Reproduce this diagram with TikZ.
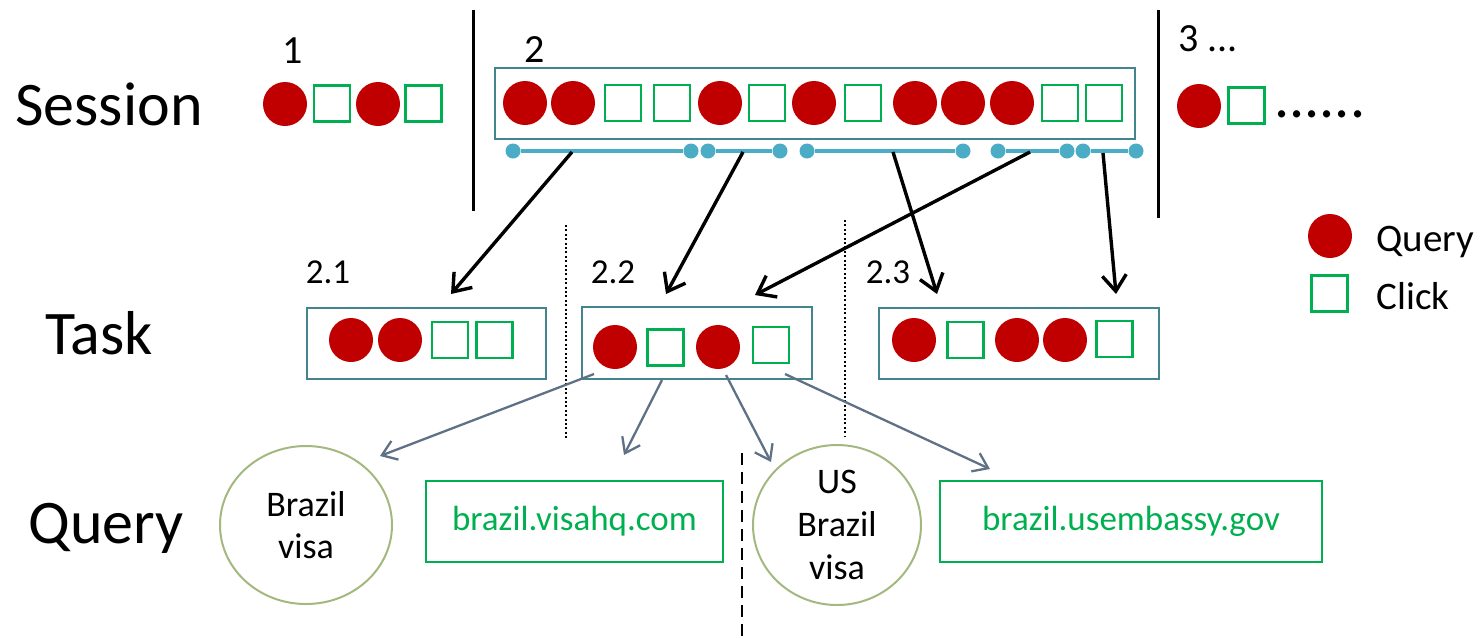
\documentclass[tikz,border=0pt]{standalone}
\usepackage{fontspec}
\setmainfont{Carlito}
\usetikzlibrary{arrows.meta,shapes.geometric}
\definecolor{qred}{HTML}{C00000}
\definecolor{cgreen}{HTML}{00B050}
\definecolor{boxteal}{HTML}{43848F}
\definecolor{segcyan}{HTML}{4BACC6}
\definecolor{linkgray}{HTML}{5F7285}
\definecolor{olivering}{HTML}{A3B87F}
\tikzset{
  qitem/.style={circle, fill=qred, minimum size=22pt, inner sep=0pt},
  citem/.style={rectangle, draw=cgreen, line width=1.2pt, minimum size=18pt, inner sep=0pt},
  groupbox/.style={rectangle, draw=boxteal, line width=1.3pt, inner sep=0pt},
  segdot/.style={circle, fill=segcyan, minimum size=7.5pt, inner sep=0pt},
  segline/.style={draw=segcyan, line width=1.6pt},
  splitarrow/.style={-{Straight Barb[length=8pt,width=12pt]}, line width=1.7pt, black},
  linkarrow/.style={-{Straight Barb[length=7pt,width=10pt]}, line width=1.15pt, draw=linkgray},
  rowlabel/.style={font=\fontsize{31}{36}\selectfont, anchor=base west, inner sep=0pt},
  numlabel/.style={font=\fontsize{20}{24}\selectfont, anchor=base, inner sep=0pt},
  tasklabel/.style={font=\fontsize{17.5}{21}\selectfont, anchor=base, inner sep=0pt},
  legendtext/.style={font=\fontsize{19.5}{23}\selectfont, anchor=base west, inner sep=0pt},
  querybubble/.style={ellipse, draw=olivering, line width=1pt, inner sep=0pt,
    align=center, font=\fontsize{18}{21}\selectfont},
  urlbox/.style={rectangle, draw=cgreen, line width=1.2pt, inner sep=0pt,
    minimum height=40.5pt, text=cgreen, font=\fontsize{17.5}{21}\selectfont},
  sessionsep/.style={line width=1.5pt, black},
  tasksep/.style={line width=1pt, dash pattern=on 1pt off 1.2pt},
  querysep/.style={line width=1pt, dash pattern=on 6pt off 3.5pt}
}
\begin{document}
\begin{tikzpicture}[x=0.5pt,y=-0.5pt]
\useasboundingbox (0,0) rectangle (1481,638);

% row titles
\node[rowlabel] (tSession) at (15,125) {Session};
\node[rowlabel] (tTask) at (45,354) {Task};
\node[rowlabel] (tQuery) at (28,543) {Query};

% session 1
\node[numlabel] (n1) at (293,63) {1};
\node[qitem] (s1q1) at (285,104) {};
\node[citem] (s1c1) at (332,103.5) {};
\node[qitem] (s1q2) at (378,104) {};
\node[citem] (s1c2) at (423.5,103.5) {};

% session separators
\coordinate (sepAtop) at (473,10);
\coordinate (sepAbot) at (473,211);
\coordinate (sepBtop) at (1158,10);
\coordinate (sepBbot) at (1158,218);
\draw[sessionsep] (sepAtop) -- (sepAbot);
\draw[sessionsep] (sepBtop) -- (sepBbot);

% session 2
\node[numlabel] (n2) at (535,62) {2};
\node[groupbox, minimum width=320pt, minimum height=35.5pt] (s2box) at (815,103.5) {};
\foreach \x [count=\i] in {525,573,720,814,915,963,1012}
  \node[qitem] (s2q\i) at (\x,103) {};
\foreach \x [count=\i] in {623,672,767,863,1060,1104}
  \node[citem] (s2c\i) at (\x,103) {};

% task segments under session 2
\foreach \x [count=\i] in {513,691,708,780,807,963,998,1067,1083,1136}
  \node[segdot] (d\i) at (\x,151) {};
\draw[segline] (d1) -- (d2);
\draw[segline] (d3) -- (d4);
\draw[segline] (d5) -- (d6);
\draw[segline] (d7) -- (d8);
\draw[segline] (d9) -- (d10);

% session 3
\node[anchor=base west, inner sep=0pt, font=\fontsize{20}{24}\selectfont] (n3) at (1178,51) {3 ...};
\node[qitem] (s3q1) at (1199,106) {};
\node[citem] (s3c1) at (1246.5,105.5) {};
\node[anchor=base west, inner sep=0pt, font=\fontsize{30}{34}\selectfont] (more) at (1274,117) {......};

% legend
\node[qitem] (lq) at (1330,236) {};
\node[legendtext] (lqt) at (1376,251) {Query};
\node[citem] (lc) at (1329.5,293.5) {};
\node[legendtext] (lct) at (1376,309) {Click};

% tasks
\node[tasklabel] (n21) at (328,283) {2.1};
\node[tasklabel] (n22) at (613,283) {2.2};
\node[tasklabel] (n23) at (888,283) {2.3};

\node[groupbox, minimum width=119.5pt, minimum height=35.5pt] (t1box) at (426.5,343.5) {};
\node[qitem] (t1q1) at (351,340) {};
\node[qitem] (t1q2) at (400,340) {};
\node[citem] (t1c1) at (450,340) {};
\node[citem] (t1c2) at (494.5,340) {};

\node[groupbox, minimum width=115pt, minimum height=36pt] (t2box) at (697,343) {};
\node[qitem] (t2q1) at (615,347) {};
\node[citem] (t2c1) at (665.5,347.5) {};
\node[qitem] (t2q2) at (718,347) {};
\node[citem] (t2c2) at (771,345) {};

\node[groupbox, minimum width=140pt, minimum height=35.5pt] (t3box) at (1019,343.5) {};
\node[qitem] (t3q1) at (914,340) {};
\node[citem] (t3c1) at (965.5,340) {};
\node[qitem] (t3q2) at (1017,340) {};
\node[qitem] (t3q3) at (1065,340) {};
\node[citem] (t3c2) at (1114.5,339) {};

% task separators
\coordinate (tsepAtop) at (566,225);
\coordinate (tsepAbot) at (566,438);
\coordinate (tsepBtop) at (845,220);
\coordinate (tsepBbot) at (845,437);
\draw[tasksep] (tsepAtop) -- (tsepAbot);
\draw[tasksep] (tsepBtop) -- (tsepBbot);

% segment-to-task arrows
\coordinate (a1s) at (572,152);  \coordinate (a1e) at (451,294);
\coordinate (a2s) at (743,152);  \coordinate (a2e) at (666,294);
\coordinate (a3s) at (893,152);  \coordinate (a3e) at (937,294);
\coordinate (a4s) at (1030,152); \coordinate (a4e) at (755,295);
\coordinate (a5s) at (1103,153); \coordinate (a5e) at (1116,294);
\draw[splitarrow] (a1s) -- (a1e);
\draw[splitarrow] (a2s) -- (a2e);
\draw[splitarrow] (a3s) -- (a3e);
\draw[splitarrow] (a4s) -- (a4e);
\draw[splitarrow] (a5s) -- (a5e);

% queries and clicks of task 2.2
\node[querybubble, minimum width=86pt, minimum height=79pt] (qb1) at (306,525) {Brazil\\visa};
\node[urlbox, minimum width=148.5pt] (ub1) at (574.5,521.5) {brazil.visahq.com};
\node[querybubble, minimum width=84pt, minimum height=80pt, font=\fontsize{18}{21.5}\selectfont] (qb2) at (837,525) {US\\Brazil\\visa};
\node[urlbox, minimum width=191pt] (ub2) at (1131,521.5) {brazil.usembassy.gov};

\coordinate (qsepTop) at (742,453);
\coordinate (qsepBot) at (742,638);
\draw[querysep] (qsepTop) -- (qsepBot);

\coordinate (l1s) at (594,374); \coordinate (l1e) at (380,456);
\coordinate (l2s) at (662,380); \coordinate (l2e) at (624,455);
\coordinate (l3s) at (726,375); \coordinate (l3e) at (771,462);
\coordinate (l4s) at (785,374); \coordinate (l4e) at (990,469);
\draw[linkarrow] (l1s) -- (l1e);
\draw[linkarrow] (l2s) -- (l2e);
\draw[linkarrow] (l3s) -- (l3e);
\draw[linkarrow] (l4s) -- (l4e);
\end{tikzpicture}
\end{document}
